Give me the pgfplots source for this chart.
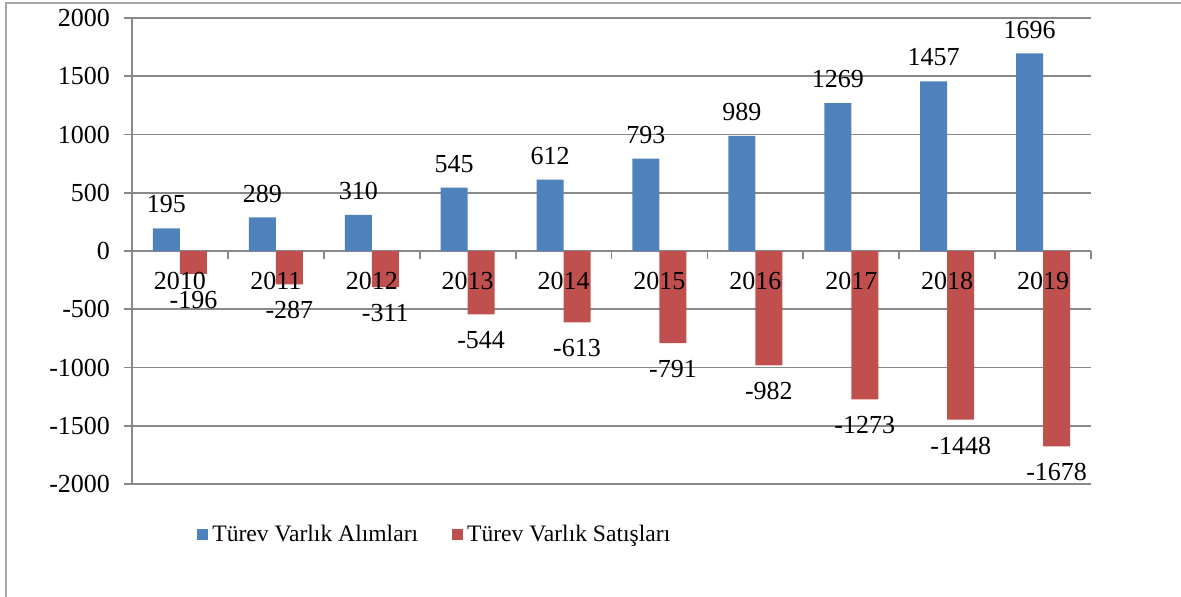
\documentclass[border=0pt]{standalone}
\usepackage{pgfplots}
\pgfplotsset{compat=1.18}
\usepackage{fontspec}
\setmainfont{Liberation Serif}
\definecolor{barblue}{HTML}{4F81BD}
\definecolor{barred}{HTML}{C0504D}
\definecolor{gridgray}{HTML}{898989}
\definecolor{framegray}{HTML}{A6A6A6}
\pgfplotsset{
  layers/mylayers/.define layer set={axis background,axis grid,axis ticks,axis lines,pre main,main,axis tick labels,axis descriptions,axis foreground}{
    grid style={/pgfplots/on layer=axis grid},
    tick style={/pgfplots/on layer=axis ticks},
    axis line style={/pgfplots/on layer=axis lines},
    label style={/pgfplots/on layer=axis descriptions},
    legend style={/pgfplots/on layer=axis descriptions},
    title style={/pgfplots/on layer=axis descriptions},
    colorbar style={/pgfplots/on layer=axis descriptions},
    ticklabel style={/pgfplots/on layer=axis tick labels},
    axis background@ style={/pgfplots/on layer=axis background},
    3d box foreground style={/pgfplots/on layer=axis foreground},
  },
}
\begin{document}
\begin{tikzpicture}[font=\fontsize{13}{15.6}\selectfont]
\begin{axis}[
  set layers=mylayers,
  at={(0pt,0pt)}, anchor=south west,
  scale only axis, width=479.5pt, height=233pt,
  xmin=-0.5, xmax=9.5, ymin=-2000, ymax=2000,
  axis x line*=middle, axis y line*=left,
  axis line style={gridgray, line width=0.9pt},
  ytick={-2000,-1500,-1000,-500,0,500,1000,1500,2000},
  yticklabels={-2000,-1500,-1000,-500,0,500,1000,1500,2000},
  ymajorgrids, grid style={gridgray, line width=0.9pt},
  tick align=outside, major tick length=4pt, minor tick length=4pt,
  tick style={gridgray, line width=0.9pt},
  xtick={0,1,2,3,4,5,6,7,8,9},
  xticklabels={2010,2011,2012,2013,2014,2015,2016,2017,2018,2019},
  minor xtick={-0.5,0.5,1.5,2.5,3.5,4.5,5.5,6.5,7.5,8.5,9.5},
  major x tick style={draw=none},
  xticklabel style={yshift=-3pt},
  yticklabel style={xshift=-3.5pt},
  ybar=0pt, bar width=13.5pt,
  nodes near coords, point meta=explicit symbolic,
  legend style={at={(0.0615,-0.1094)}, anchor=west, draw=none, fill=none,
    legend columns=2, /tikz/every even column/.append style={column sep=15pt},
    font=\fontsize{11.8}{14}\selectfont},
  legend cell align=left,
]
\addplot[fill=barblue, draw=none,
  every node near coord/.append style={anchor=south, yshift=4pt},
  legend image code/.code={\fill[barblue] (0pt,-2.75pt) rectangle (5.5pt,2.75pt);}]
  coordinates {(0,195)[195] (1,289)[289] (2,310)[310] (3,545)[545] (4,612)[612]
  (5,793)[793] (6,989)[989] (7,1269)[1269] (8,1457)[1457] (9,1696)[1696]};
\addlegendentry{Türev Varlık Alımları}
\addplot[fill=barred, draw=none,
  every node near coord/.append style={anchor=north, yshift=-5pt},
  legend image code/.code={\fill[barred] (0pt,-2.75pt) rectangle (5.5pt,2.75pt);}]
  coordinates {(0,-196)[-196] (1,-287)[-287] (2,-311)[-311] (3,-544)[-544] (4,-613)[-613]
  (5,-791)[-791] (6,-982)[-982] (7,-1273)[-1273] (8,-1448)[-1448] (9,-1678)[-1678]};
\addlegendentry{Türev Varlık Satışları}
\end{axis}
\pgfresetboundingbox
\useasboundingbox (-66pt,-56pt) rectangle (524.5pt,242pt);
\draw[framegray, line width=1pt] (-63pt,-60pt) -- (-63pt,240.5pt) -- (530pt,240.5pt);
\end{tikzpicture}
\end{document}
